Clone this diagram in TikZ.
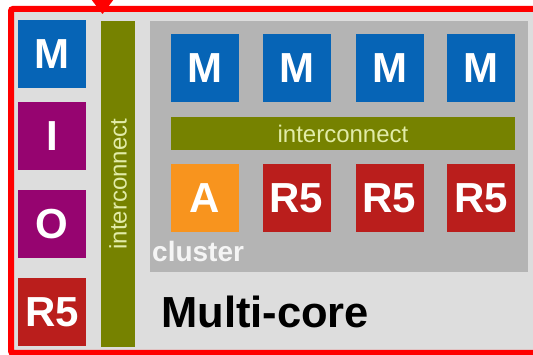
\documentclass[tikz,border=0pt]{standalone}
\usepackage{fontspec}
\setmainfont{Liberation Sans}
\definecolor{memblue}{RGB}{6,100,182}
\definecolor{iopurple}{RGB}{150,4,112}
\definecolor{rfred}{RGB}{186,30,28}
\definecolor{accorange}{RGB}{248,148,30}
\definecolor{busgreen}{RGB}{118,130,0}
\definecolor{bustext}{RGB}{226,236,168}
\definecolor{panelgray}{RGB}{221,221,221}
\definecolor{clustergray}{RGB}{180,180,180}
\definecolor{frame}{RGB}{255,0,0}
\tikzset{
  unit/.style={draw=none, inner sep=0pt, minimum width=68pt, minimum height=68pt,
    text=white, font=\fontsize{42}{42}\selectfont\bfseries},
  mem/.style={unit, fill=memblue},
  io/.style={unit, fill=iopurple},
  rcore/.style={unit, fill=rfred},
  acore/.style={unit, fill=accorange},
  bus/.style={fill=busgreen, inner sep=0pt, text=bustext, font=\fontsize{24}{24}\selectfont},
}
\begin{document}
\begin{tikzpicture}[x=1pt,y=-1pt]
\useasboundingbox (0,0) rectangle (533,355);
\clip (0,0) rectangle (533,355);
% background and red outline of the multi-core block
\fill[white] (0,0) rectangle (533,355);
\fill[panelgray] (13,11) rectangle (540,350);
\draw[frame, line width=6pt, rounded corners=2pt] (11,9) rectangle (545,353);
% marker on the top edge
\fill[frame] (91,-1) -- (114,-1) -- (102.5,14) -- cycle;

% left column
\node[mem]   (m0) at (52,54)  {M};
\node[io]    (i0) at (52,136) {I};
\node[io]    (o0) at (52,224) {O};
\node[rcore] (r0) at (52,312) {R5};

% vertical interconnect
\node[bus, minimum width=34pt, minimum height=326pt] (vbus) at (118,184) {};
\node[text=bustext, font=\fontsize{24}{24}\selectfont, rotate=90] (vbuslabel) at (vbus.center) {interconnect};

% cluster
\node[fill=clustergray, inner sep=0pt, minimum width=378pt, minimum height=251pt] (cluster) at (339,146.5) {};
\node[mem] (m1) at (205,68.5)   {M};
\node[mem] (m2) at (296.5,68.5) {M};
\node[mem] (m3) at (389.5,68.5) {M};
\node[mem] (m4) at (481,68.5)   {M};
\node[bus, minimum width=344pt, minimum height=33pt] (hbus) at (343,133.5) {interconnect};
\node[acore] (a1) at (205,198)   {A};
\node[rcore] (r1) at (296.5,198) {R5};
\node[rcore] (r2) at (389.5,198) {R5};
\node[rcore] (r3) at (481,198)   {R5};
\node[anchor=base west, inner sep=0pt, text=white!96!black, font=\fontsize{28}{28}\selectfont\bfseries] (clusterlabel) at (152,262) {cluster};

% block title
\node[anchor=base west, inner sep=0pt, text=black, font=\fontsize{43.5}{43.5}\selectfont\bfseries] (title) at (161,328) {Multi-core};
\end{tikzpicture}
\end{document}
